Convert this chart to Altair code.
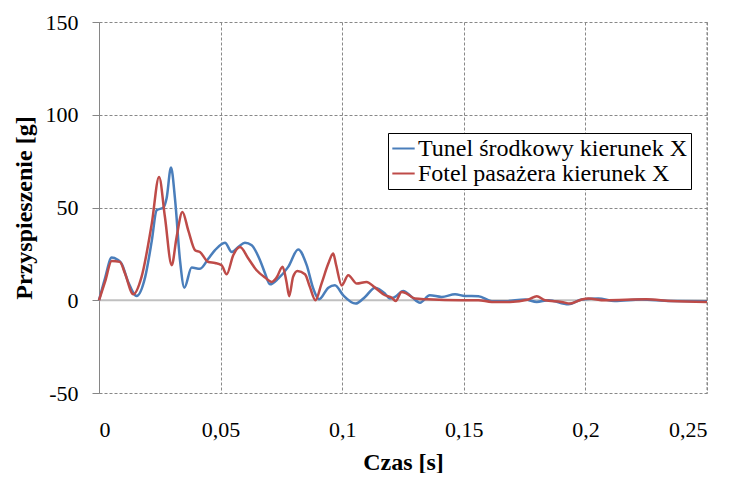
import altair as alt
import pandas as pd

series_names = ["Tunel środkowy kierunek X", "Fotel pasażera kierunek X"]

t_blue = [0, 0.0025, 0.0052, 0.0075, 0.0093, 0.012, 0.0155, 0.019, 0.0217, 0.0237,
          0.0265, 0.0278, 0.0296, 0.0313, 0.0333, 0.0351, 0.0381, 0.0415, 0.045, 0.0477,
          0.0518, 0.0546, 0.0575, 0.060, 0.0628, 0.0662, 0.0683, 0.0703, 0.0737, 0.0778,
          0.0819, 0.0854, 0.0881, 0.0905, 0.0943, 0.097, 0.1004, 0.1055, 0.1094, 0.1135,
          0.1176, 0.1196, 0.1217, 0.1251, 0.1286, 0.132, 0.136, 0.1409, 0.1464, 0.1505,
          0.156, 0.1615, 0.167, 0.1752, 0.18, 0.1848, 0.193, 0.1985, 0.2053, 0.212,
          0.223, 0.235, 0.25]
g_blue = [0, 12, 23, 22, 19.8, 9.9, 2.3, 12.6, 32, 48.5,
          50, 55, 71.5, 54, 21.6, 6.8, 17.6, 17, 22.5, 27,
          31, 26, 29, 31, 29.6, 21.6, 14.4, 8.6, 11.7, 18,
          27.3, 18.9, 6.3, 0.5, 6.8, 8.1, 2.7, -1.8, 1.8, 6.8,
          3.6, 0.9, 1.8, 5, 1.8, -1.3, 2.7, 1.8, 3.2, 2.3,
          2.2, -0.5, -0.5, 0.4, -0.9, 0, -2.2, 0.4, 0.9, -0.4,
          0.4, -0.4, -0.5]

t_red = [0, 0.0025, 0.0052, 0.0086, 0.0107, 0.0141, 0.0175, 0.0217, 0.0247, 0.0271,
         0.0299, 0.0319, 0.0343, 0.0367, 0.0395, 0.0415, 0.045, 0.0477, 0.0504, 0.0525,
         0.0552, 0.058, 0.0614, 0.0648, 0.0683, 0.071, 0.073, 0.0755, 0.0771, 0.0782,
         0.0798, 0.0816, 0.0847, 0.0867, 0.089, 0.0915, 0.0943, 0.0963, 0.0975, 0.0998,
         0.1025, 0.106, 0.110, 0.1135, 0.1176, 0.1203, 0.122, 0.1244, 0.1265, 0.1299,
         0.135, 0.149, 0.156, 0.1615, 0.169, 0.1766, 0.18, 0.1834, 0.1902, 0.1937,
         0.1985, 0.2012, 0.208, 0.225, 0.235, 0.25]
g_red = [0, 10, 21.2, 20.7, 14.4, 3.2, 12.6, 41.3, 66.5, 45,
         18.9, 34, 47.6, 37.7, 27, 26, 20.6, 20.1, 18.9, 14,
         24.3, 28.7, 22.5, 16.2, 12.2, 9.9, 12.2, 18, 9.9, 2.2,
         12.6, 15.8, 14, 7.2, 0, 9, 19.8, 25.2, 19, 8,
         13.5, 9, 9.9, 6.8, 2.7, 1.5, -0.4, 4.5, 3.6, 0.9,
         0.5, 0, 0, -0.9, -0.9, 0.4, 2.2, 0, -0.9, -1.8,
         0.4, 0.9, 0, 0.5, -0.4, -0.9]

x_ticks = [0, 0.05, 0.1, 0.15, 0.2, 0.25]
y_ticks = [-50, 0, 50, 100, 150]

df = pd.concat([
    pd.DataFrame({"t": t_blue, "g": g_blue, "s": series_names[0]}),
    pd.DataFrame({"t": t_red, "g": g_red, "s": series_names[1]}),
])

FONT = "Liberation Serif"
GRID = "#888888"

x_scale = alt.Scale(domain=[0, 0.25], nice=False, zero=False)
y_scale = alt.Scale(domain=[-50, 150], nice=False)

lines = alt.Chart(df).mark_line(strokeWidth=2.5, interpolate="monotone").encode(
    x=alt.X("t:Q", scale=x_scale,
            axis=alt.Axis(values=x_ticks, title="Czas [s]", grid=True, gridColor=GRID,
                          gridDash=[3, 2], gridWidth=1, domain=False, ticks=False,
                          labelPadding=26, labelFont=FONT, labelFontSize=22,
                          labelColor="black",
                          labelExpr="replace(format(datum.value, '~g'), '.', ',')",
                          titleFont=FONT, titleFontSize=24, titleFontWeight="bold",
                          titleColor="black", titlePadding=10)),
    y=alt.Y("g:Q", scale=y_scale,
            axis=alt.Axis(values=y_ticks, title="Przyspieszenie  [g]", grid=True,
                          gridColor=GRID, gridDash=[3, 2], gridWidth=1,
                          domain=True, domainColor="#868686", domainWidth=1,
                          ticks=True, tickColor="#868686", tickSize=7,
                          labelPadding=14, labelFont=FONT, labelFontSize=22,
                          labelColor="black",
                          labelExpr="toString(datum.value)",
                          titleFont=FONT, titleFontSize=24, titleFontWeight="bold",
                          titleColor="black", titlePadding=9)),
    color=alt.Color("s:N", sort=series_names,
                    scale=alt.Scale(domain=series_names, range=["#4a7ebb", "#be4b48"]),
                    legend=alt.Legend(title=None, orient="none", legendX=289, legendY=111,
                                      symbolType="stroke", symbolSize=500,
                                      symbolStrokeWidth=2, labelFont=FONT,
                                      labelFontSize=24, labelColor="black",
                                      labelLimit=500,
                                      labelOffset=2, strokeColor="black",
                                      fillColor="white", padding=3, rowPadding=0)),
)

zero = alt.Chart(pd.DataFrame({"y": [0]})).mark_rule(color="#c0c0c0", strokeWidth=2).encode(
    y=alt.Y("y:Q", scale=y_scale)
)

border = alt.Chart(pd.DataFrame({"x": [0.25]})).mark_rule(color=GRID, strokeDash=[3, 2]).encode(
    x=alt.X("x:Q", scale=x_scale)
)

chart = alt.layer(zero, border, lines).properties(
    width=608, height=371,
    autosize=alt.AutoSizeParams(type="none"),
    padding={"left": 91, "top": 14, "right": 15, "bottom": 80},
).configure_view(stroke=None)

chart.save("out.html", embed_options={"renderer": "svg", "actions": False})
